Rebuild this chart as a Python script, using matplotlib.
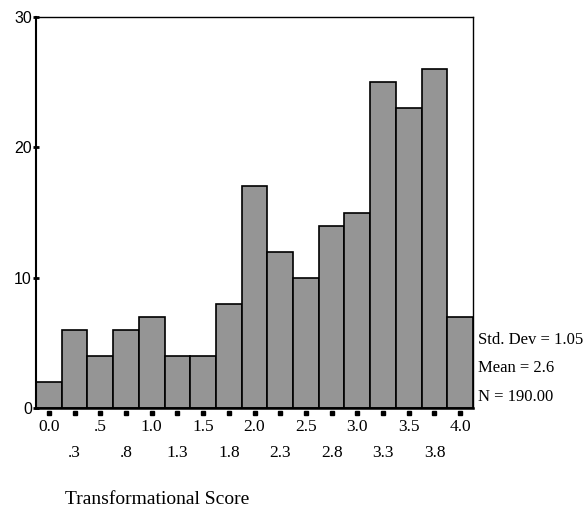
import matplotlib.pyplot as plt
import matplotlib.transforms as mtransforms

# histogram bin centres and counts
centres = [0.0, 0.25, 0.5, 0.75, 1.0, 1.25, 1.5, 1.75, 2.0, 2.25,
           2.5, 2.75, 3.0, 3.25, 3.5, 3.75, 4.0]
counts = [2, 6, 4, 6, 7, 4, 4, 8, 17, 12, 10, 14, 15, 25, 23, 26, 7]
tick_labels = ['0.0', '.3', '.5', '.8', '1.0', '1.3', '1.5', '1.8', '2.0',
               '2.3', '2.5', '2.8', '3.0', '3.3', '3.5', '3.8', '4.0']
y_ticks = [0, 10, 20, 30]
stats = ['Std. Dev = 1.05', 'Mean = 2.6', 'N = 190.00']

serif = 'Liberation Serif'
sans = 'Liberation Sans'

fig = plt.figure(figsize=(5.87, 5.14), dpi=100)
ax = fig.add_axes([36 / 587, 1 - 408 / 514, 437 / 587, 391 / 514])

ax.bar(centres, counts, width=0.25, color='#959595', edgecolor='black',
       linewidth=1.2)

ax.set_xlim(-0.125, 4.125)
ax.set_ylim(0, 30)

for s in ax.spines.values():
    s.set_linewidth(1.0)
ax.spines['left'].set_linewidth(1.5)
ax.spines['bottom'].set_linewidth(1.8)

ax.set_yticks(y_ticks)
ax.set_yticklabels([str(v) for v in y_ticks], fontfamily=sans, fontsize=11.5)
ax.tick_params(axis='y', direction='inout', length=4, width=2, pad=1)

# x labels in two staggered rows
ax.set_xticks([])
trans = mtransforms.blended_transform_factory(ax.transData, ax.transAxes)
ax.plot(centres, [-0.012] * len(centres), 's', color='black', markersize=2.5,
        transform=trans, clip_on=False)
for i, (c, lab) in enumerate(zip(centres, tick_labels)):
    y = -0.049 if i % 2 == 0 else -0.116
    ax.text(c, y, lab, transform=trans, ha='center', va='center',
            fontfamily=serif, fontsize=12.5)

for i, s in enumerate(stats):
    fig.text(478 / 587, 1 - (340 + 28.5 * i) / 514, s, ha='left', va='center',
             fontfamily=serif, fontsize=12)

fig.text(157 / 587, 1 - 500 / 514, 'Transformational Score', ha='center',
         va='center', fontfamily=serif, fontsize=14)

fig.savefig('out.png', dpi=100, facecolor='white')
